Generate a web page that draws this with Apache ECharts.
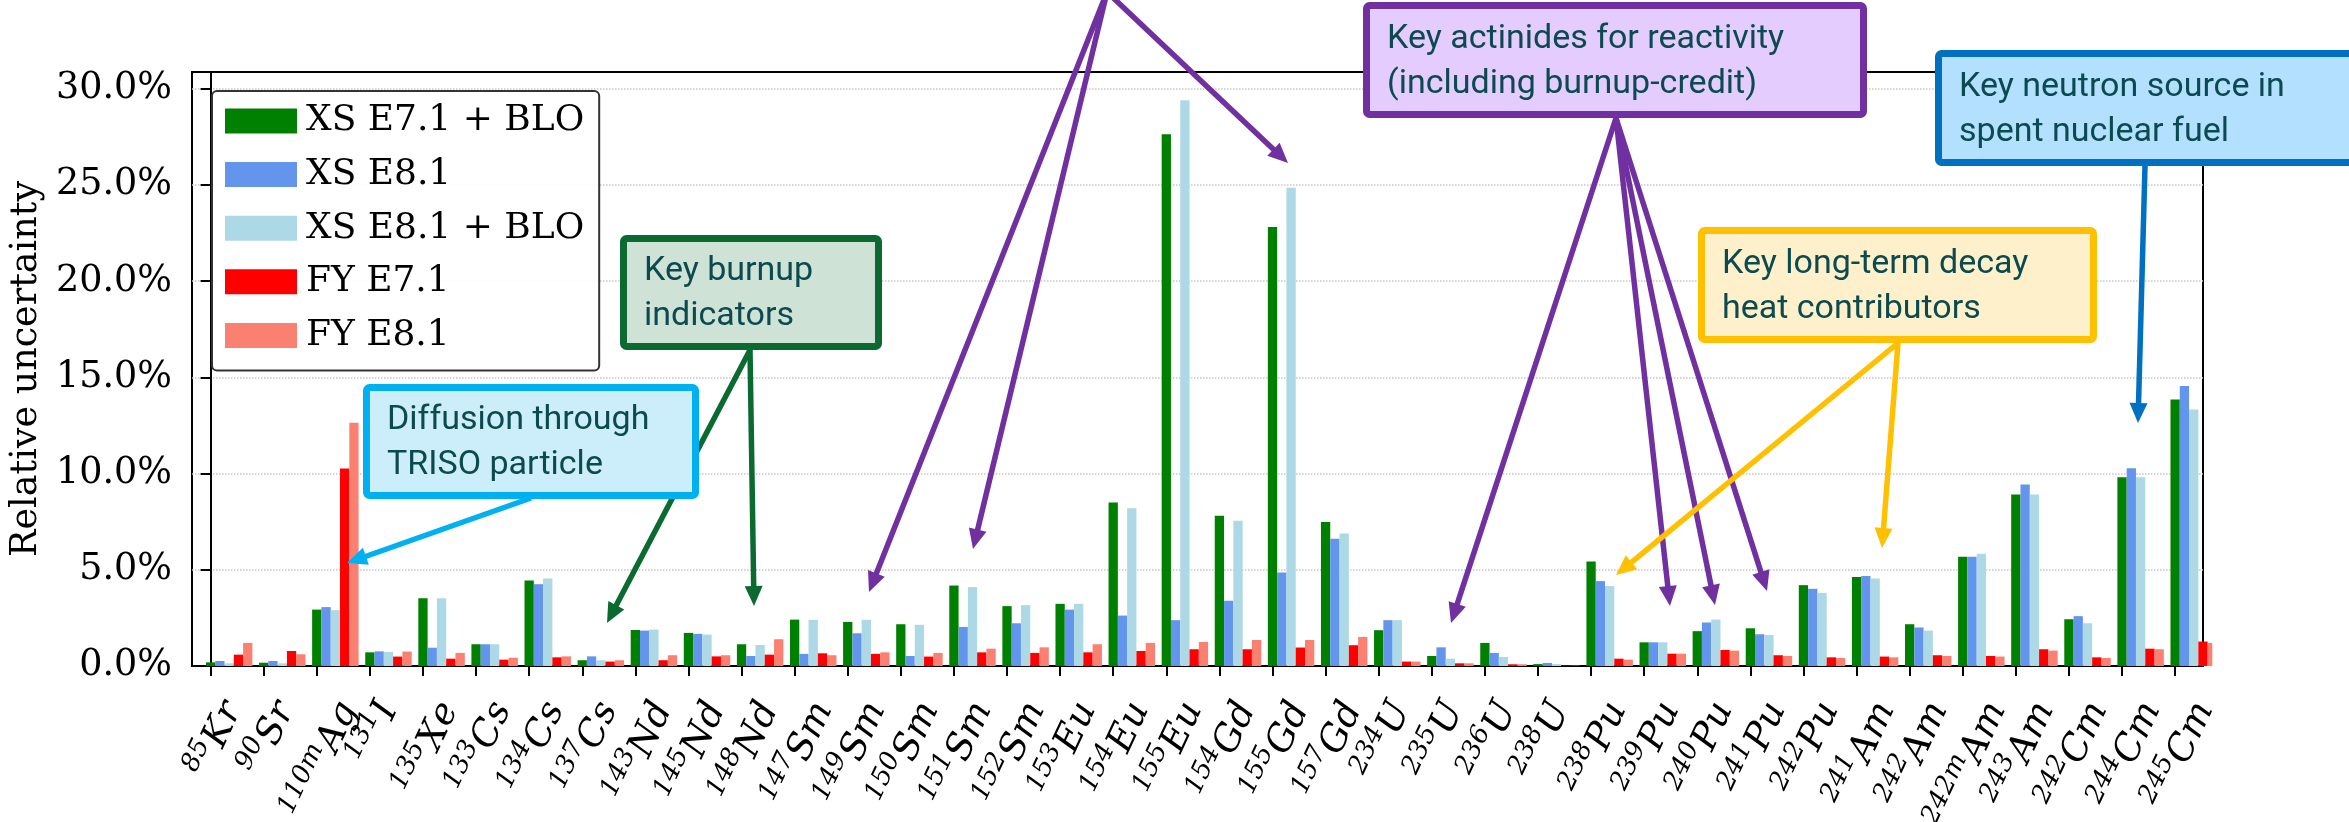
<!DOCTYPE html>
<html><head><meta charset="utf-8">
<script src="https://cdn.jsdelivr.net/npm/echarts@6/dist/echarts.min.js"></script>
<style>html,body{margin:0;padding:0;background:#fff}#c{width:2349px;height:822px}</style>
</head><body><div id="c"></div>
<script>
// ---------------- data ----------------
const categories = ['85Kr','90Sr','110mAg','131I','135Xe','133Cs','134Cs','137Cs','143Nd','145Nd','148Nd','147Sm','149Sm','150Sm','151Sm','152Sm','153Eu','154Eu','155Eu','154Gd','155Gd','157Gd','234U','235U','236U','238U','238Pu','239Pu','240Pu','241Pu','242Pu','241Am','242Am','242mAm','243Am','242Cm','244Cm','245Cm'];
const seriesNames = ['XS E7.1 + BLO','XS E8.1','XS E8.1 + BLO','FY E7.1','FY E8.1'];
const xsE71Blo = [0.19,0.17,2.93,0.71,3.52,1.13,4.44,0.30,1.87,1.72,1.13,2.41,2.29,2.17,4.18,3.11,3.23,8.49,27.62,7.80,22.81,7.48,1.86,0.52,1.20,0.10,5.43,1.23,1.81,1.96,4.20,4.62,2.17,5.68,8.91,2.43,9.81,13.84];
const xsE81    = [0.26,0.26,3.06,0.76,0.95,1.13,4.25,0.50,1.84,1.67,0.52,0.63,1.70,0.52,2.03,2.22,2.93,2.62,2.38,3.39,4.86,6.61,2.38,0.97,0.68,0.16,4.41,1.23,2.26,1.65,4.01,4.67,2.00,5.68,9.43,2.59,10.28,14.55];
const xsE81Blo = [0.14,0.14,2.90,0.73,3.52,1.13,4.55,0.30,1.89,1.63,1.09,2.40,2.40,2.14,4.10,3.16,3.23,8.19,29.39,7.55,24.84,6.88,2.38,0.38,0.47,0.10,4.15,1.23,2.41,1.61,3.80,4.55,1.84,5.83,8.91,2.22,9.81,13.32];
const fyE71    = [0.59,0.78,10.26,0.49,0.38,0.33,0.45,0.23,0.30,0.50,0.59,0.66,0.63,0.49,0.71,0.68,0.71,0.78,0.87,0.87,0.96,1.08,0.23,0.14,0.09,0.02,0.38,0.64,0.83,0.56,0.45,0.49,0.56,0.52,0.87,0.45,0.90,1.27];
const fyE81    = [1.20,0.61,12.64,0.75,0.68,0.43,0.50,0.30,0.56,0.56,1.39,0.56,0.71,0.68,0.90,0.97,1.13,1.20,1.25,1.35,1.35,1.51,0.23,0.14,0.09,0.02,0.33,0.64,0.80,0.52,0.42,0.45,0.52,0.49,0.80,0.42,0.87,1.20];
const yTicks = [0,5,10,15,20,25,30];
const annotations = [
  {text:'Diffusion through\nTRISO particle', stroke:'#00b0f0', fill:'#cceefa'},
  {text:'Key burnup\nindicators', stroke:'#0b6a30', fill:'#cfe2d6'},
  {text:'Key actinides for reactivity\n(including burnup-credit)', stroke:'#7030a0', fill:'#e4ccff'},
  {text:'Key long-term decay\nheat contributors', stroke:'#ffc000', fill:'#fff0cc'},
  {text:'Key neutron source in\nspent nuclear fuel', stroke:'#0070c0', fill:'#b3e0ff'}
];

// ---------------- layout / style ----------------
const W = 2349, H = 822;
const G = {left:192, right:146, top:72, bottom:156};
const BW = 0.175;                 // bar width in category units
const XMIN = -2*BW, XMAX = categories.length - 1 + 3*BW;
const pxPerUnit = (W - G.left - G.right) / (XMAX - XMIN);
const colors = ['#008000','#6495ed','#add8e6','#ff0000','#fa8072'];
const values = [xsE71Blo, xsE81, xsE81Blo, fyE71, fyE81];
const ROT = 65, SUP = 26, EL = 37;
const serif = '"DejaVu Serif", serif';

// label placement (mimic matplotlib centred rotated labels)
const ctx = document.createElement('canvas').getContext('2d');
const parts = categories.map(c => { const m = c.match(/^(\d+m?)(.*)$/); return [m[1], m[2]]; });
const labelPos = parts.map((p, i) => {
  ctx.font = 'italic ' + SUP + 'px ' + serif; const a = ctx.measureText(p[0]).width;
  ctx.font = 'italic ' + EL + 'px ' + serif; const b = ctx.measureText(p[1]).width;
  const L = a + b;
  const off = (L * Math.cos(ROT*Math.PI/180) / 2 + 3) / pxPerUnit;
  return +(i + off).toFixed(5);
});
function labelFor(v){
  let best = 0, d = 1e9;
  labelPos.forEach((p, i) => { const dd = Math.abs(p - v); if (dd < d) { d = dd; best = i; } });
  return '{s|' + parts[best][0] + '}{e|' + parts[best][1] + '}';
}

const series = values.map((vals, k) => ({
  name: seriesNames[k], type: 'bar', barGap: '-100%',
  barWidth: BW * pxPerUnit,
  itemStyle: {color: colors[k]},
  data: vals.map((v, i) => [i + k*BW, v]),
  clip: true, z: 2
}));

// ---------------- annotations (graphic) ----------------
function arrow(x1,y1,x2,y2,color,lw,hl,hw){
  lw = lw||5.5; hl = hl||20; hw = hw||18;
  const dx=x2-x1, dy=y2-y1, len=Math.hypot(dx,dy), ux=dx/len, uy=dy/len;
  const bx=x2-ux*hl, by=y2-uy*hl, px=-uy, py=ux;
  return [
    {type:'line', shape:{x1:x1,y1:y1,x2:bx+ux*2,y2:by+uy*2}, style:{stroke:color,lineWidth:lw}, z:100},
    {type:'polygon', shape:{points:[[x2,y2],[bx+px*hw/2,by+py*hw/2],[bx-px*hw/2,by-py*hw/2]]}, style:{fill:color}, z:100}
  ];
}
function box(a, x, y, w, h){
  return [
    {type:'rect', shape:{x:x+3.5,y:y+3.5,width:w-7,height:h-7,r:3}, style:{fill:a.fill, stroke:a.stroke, lineWidth:7}, z:101},
    {type:'text', x:x+24, y:y+h/2+1.5, style:{text:a.text, fill:'#0b4a4f', fontFamily:'Roboto', fontSize:34, lineHeight:45, verticalAlign:'middle', align:'left'}, z:102}
  ];
}
const P = '#7030a0';
let graphic = [];
graphic = graphic
  .concat(arrow(531,498,347,563,'#00b0f0'))
  .concat(arrow(750,350,607,623,'#0b6a30'))
  .concat(arrow(750,350,754,606,'#0b6a30'))
  .concat(arrow(1107,-8,869,592,P))
  .concat(arrow(1107,-8,973,549,P))
  .concat(arrow(1107,-8,1288,163,P))
  .concat(arrow(1616,118,1451,623,P))
  .concat(arrow(1616,118,1670,606,P))
  .concat(arrow(1616,118,1715,605,P))
  .concat(arrow(1616,118,1767,591,P))
  .concat(arrow(1898,343,1616,575,'#ffc000'))
  .concat(arrow(1898,343,1882,548,'#ffc000'))
  .concat(arrow(2145,166,2138,423,'#0070c0'))
  .concat(box(annotations[0],363,384,336,115))
  .concat(box(annotations[1],620,235,262,115))
  .concat(box(annotations[2],1363,2,504,116))
  .concat(box(annotations[3],1698,227,399,116))
  .concat(box(annotations[4],1935,50,440,116));

const chart = echarts.init(document.getElementById('c'), null, {renderer:'canvas', width:W, height:H});
chart.setOption({
  animation: false,
  backgroundColor: '#fff',
  grid: {left:G.left, right:G.right, top:G.top, bottom:G.bottom, show:true, containLabel:false, outerBoundsMode:'none',
         borderColor:'#000', borderWidth:2, backgroundColor:'transparent'},
  legend: {
    orient:'vertical', left:212, top:91, padding:[12,15,17,13],
    itemWidth:72, itemHeight:25, itemGap:17.6, icon:'rect',
    data: seriesNames,
    textStyle:{fontFamily:serif, fontSize:36, color:'#000', lineHeight:36, padding:[0,0,0,4]},
    backgroundColor:'rgba(255,255,255,0.9)', borderColor:'#333', borderWidth:2, borderRadius:5, z:50
  },
  xAxis: {
    type:'value', min:XMIN, max:XMAX,
    axisLine:{show:true, onZero:false, lineStyle:{color:'#000', width:2}},
    axisTick:{show:true, customValues: categories.map((c,i)=>i), length:10, lineStyle:{color:'#000', width:2}},
    axisLabel:{
      show:true, customValues: labelPos, rotate:ROT, margin:37,
      formatter: labelFor,
      rich:{
        s:{fontFamily:serif, fontStyle:'italic', fontSize:SUP, lineHeight:26, verticalAlign:'top', color:'#000'},
        e:{fontFamily:serif, fontStyle:'italic', fontSize:EL, lineHeight:43, verticalAlign:'bottom', color:'#000'}
      }
    },
    splitLine:{show:false}
  },
  yAxis: {
    type:'value', min:0, max:30.86, interval:5,
    name:'Relative uncertainty', nameLocation:'middle', nameGap:145,
    nameTextStyle:{fontFamily:serif, fontSize:36.5, color:'#000'},
    axisLine:{show:true, lineStyle:{color:'#000', width:2}},
    axisTick:{show:true, customValues:yTicks, length:10, lineStyle:{color:'#000', width:2}},
    axisLabel:{customValues:yTicks, margin:20, fontFamily:serif, fontSize:36.5, color:'#000',
      formatter: v => (v % 5 === 0 ? v.toFixed(1) + '%' : '')},
    splitLine:{show:true, lineStyle:{type:'dotted', color:'#c8c8c8', width:1.5}}
  },
  series: series,
  graphic: graphic
});
</script>
</body></html>
